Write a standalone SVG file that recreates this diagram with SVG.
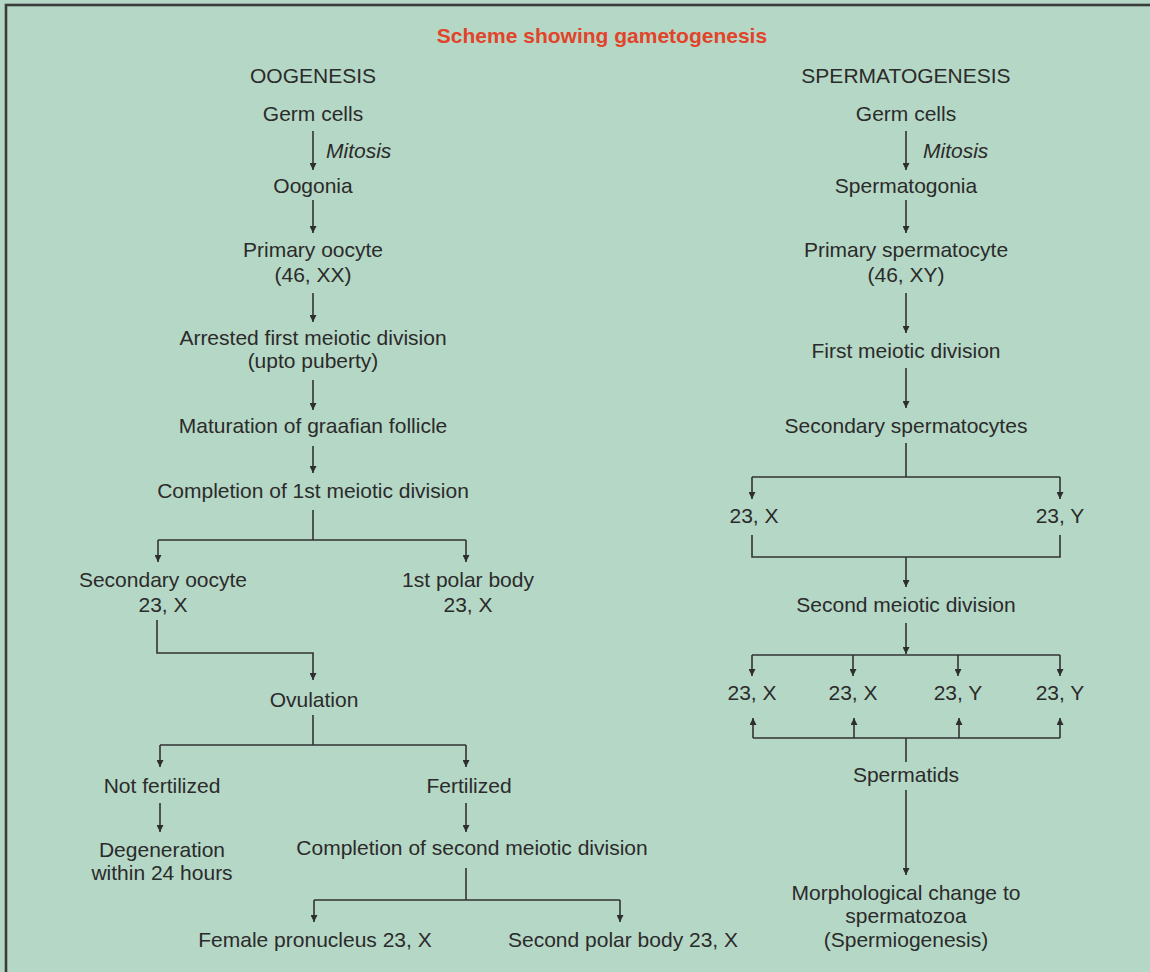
<svg xmlns="http://www.w3.org/2000/svg" width="1150" height="972" viewBox="0 0 1150 972">
<defs>
<marker id="ah" viewBox="0 0 10 10" refX="10" refY="5" markerWidth="9" markerHeight="7" markerUnits="userSpaceOnUse" orient="auto">
<path d="M0,0 L10,5 L0,10 z" fill="#2e2e2e"/>
</marker>
<style>
.t{font-family:"Liberation Sans",Arial,Helvetica,sans-serif;font-size:21px;fill:#2b2b2b;text-anchor:middle}
.i{font-style:italic;text-anchor:start}
.h{font-family:"Liberation Sans",Arial,Helvetica,sans-serif;font-size:21px;font-weight:bold;fill:#e2432a;text-anchor:middle}
.c{fill:none;stroke:#333;stroke-width:1.6}
.a{marker-end:url(#ah)}
</style>
</defs>
<rect x="0" y="0" width="1150" height="972" fill="#b5d7c5"/>
<rect x="6" y="5" width="1150" height="975" fill="none" stroke="#3c3c3c" stroke-width="2.6"/>
<text class="h" x="602" y="43">Scheme showing gametogenesis</text>

<g id="connectors">
<path class="c a" d="M313,131 V170"/>
<path class="c a" d="M313,200 V233"/>
<path class="c a" d="M313,293 V322"/>
<path class="c a" d="M313,380 V410"/>
<path class="c a" d="M313,446 V473"/>
<path class="c" d="M313,510 V540 M158,540 H466"/>
<path class="c a" d="M158,540 V562"/>
<path class="c a" d="M466,540 V562"/>
<path class="c a" d="M157,620 V653 H313 V680"/>
<path class="c" d="M313,715 V745 M160,745 H466"/>
<path class="c a" d="M160,745 V767"/>
<path class="c a" d="M466,745 V767"/>
<path class="c a" d="M160,803 V832"/>
<path class="c a" d="M466,803 V832"/>
<path class="c" d="M466,868 V900 M314,900 H620"/>
<path class="c a" d="M314,900 V922"/>
<path class="c a" d="M620,900 V922"/>

<path class="c a" d="M906,131 V170"/>
<path class="c a" d="M906,200 V233"/>
<path class="c a" d="M906,293 V333"/>
<path class="c a" d="M906,368 V408"/>
<path class="c" d="M906,443 V477 M752,477 H1060"/>
<path class="c a" d="M752,477 V499"/>
<path class="c a" d="M1060,477 V499"/>
<path class="c" d="M752,535 V557 H1060 V535"/>
<path class="c a" d="M906,557 V587"/>
<path class="c a" d="M906,623 V654"/>
<path class="c" d="M752,655 H1060"/>
<path class="c a" d="M752,655 V676"/>
<path class="c a" d="M853,655 V676"/>
<path class="c a" d="M958,655 V676"/>
<path class="c a" d="M1060,655 V676"/>
<path class="c" d="M753,738 H1060 M906,738 V762"/>
<path class="c a" d="M753,738 V718"/>
<path class="c a" d="M854,738 V718"/>
<path class="c a" d="M959,738 V718"/>
<path class="c a" d="M1060,738 V718"/>
<path class="c a" d="M906,790 V875"/>
</g>

<g id="oogenesis-head"><text class="t" x="313" y="83">OOGENESIS</text></g>
<g id="o-germ"><text class="t" x="313" y="121">Germ cells</text></g>
<g id="o-mitosis"><text class="t i" x="326" y="158">Mitosis</text></g>
<g id="oogonia"><text class="t" x="313" y="193">Oogonia</text></g>
<g id="primary-oocyte"><text class="t" x="313" y="257">Primary oocyte</text><text class="t" x="313" y="282">(46, XX)</text></g>
<g id="arrested"><text class="t" x="313" y="345">Arrested first meiotic division</text><text class="t" x="313" y="368">(upto puberty)</text></g>
<g id="maturation"><text class="t" x="313" y="433">Maturation of graafian follicle</text></g>
<g id="completion1"><text class="t" x="313" y="498">Completion of 1st meiotic division</text></g>
<g id="secondary-oocyte"><text class="t" x="163" y="587">Secondary oocyte</text><text class="t" x="163" y="612">23, X</text></g>
<g id="polar1"><text class="t" x="468" y="587">1st polar body</text><text class="t" x="468" y="612">23, X</text></g>
<g id="ovulation"><text class="t" x="314" y="707">Ovulation</text></g>
<g id="not-fertilized"><text class="t" x="162" y="793">Not fertilized</text></g>
<g id="fertilized"><text class="t" x="469" y="793">Fertilized</text></g>
<g id="degeneration"><text class="t" x="162" y="857">Degeneration</text><text class="t" x="162" y="880">within 24 hours</text></g>
<g id="completion2"><text class="t" x="472" y="855">Completion of second meiotic division</text></g>
<g id="female-pronucleus"><text class="t" x="315" y="947">Female pronucleus 23, X</text></g>
<g id="polar2"><text class="t" x="623" y="947">Second polar body 23, X</text></g>

<g id="spermatogenesis-head"><text class="t" x="906" y="83">SPERMATOGENESIS</text></g>
<g id="s-germ"><text class="t" x="906" y="121">Germ cells</text></g>
<g id="s-mitosis"><text class="t i" x="923" y="158">Mitosis</text></g>
<g id="spermatogonia"><text class="t" x="906" y="193">Spermatogonia</text></g>
<g id="primary-spermatocyte"><text class="t" x="906" y="257">Primary spermatocyte</text><text class="t" x="906" y="282">(46, XY)</text></g>
<g id="first-meiotic"><text class="t" x="906" y="358">First meiotic division</text></g>
<g id="secondary-spermatocytes"><text class="t" x="906" y="433">Secondary spermatocytes</text></g>
<g id="s23x-a"><text class="t" x="754" y="523">23, X</text></g>
<g id="s23y-a"><text class="t" x="1060" y="523">23, Y</text></g>
<g id="second-meiotic"><text class="t" x="906" y="612">Second meiotic division</text></g>
<g id="s23x-1"><text class="t" x="752" y="700">23, X</text></g>
<g id="s23x-2"><text class="t" x="853" y="700">23, X</text></g>
<g id="s23y-1"><text class="t" x="958" y="700">23, Y</text></g>
<g id="s23y-2"><text class="t" x="1060" y="700">23, Y</text></g>
<g id="spermatids"><text class="t" x="906" y="782">Spermatids</text></g>
<g id="morphological"><text class="t" x="906" y="900">Morphological change to</text><text class="t" x="906" y="923">spermatozoa</text><text class="t" x="906" y="947">(Spermiogenesis)</text></g>
</svg>
